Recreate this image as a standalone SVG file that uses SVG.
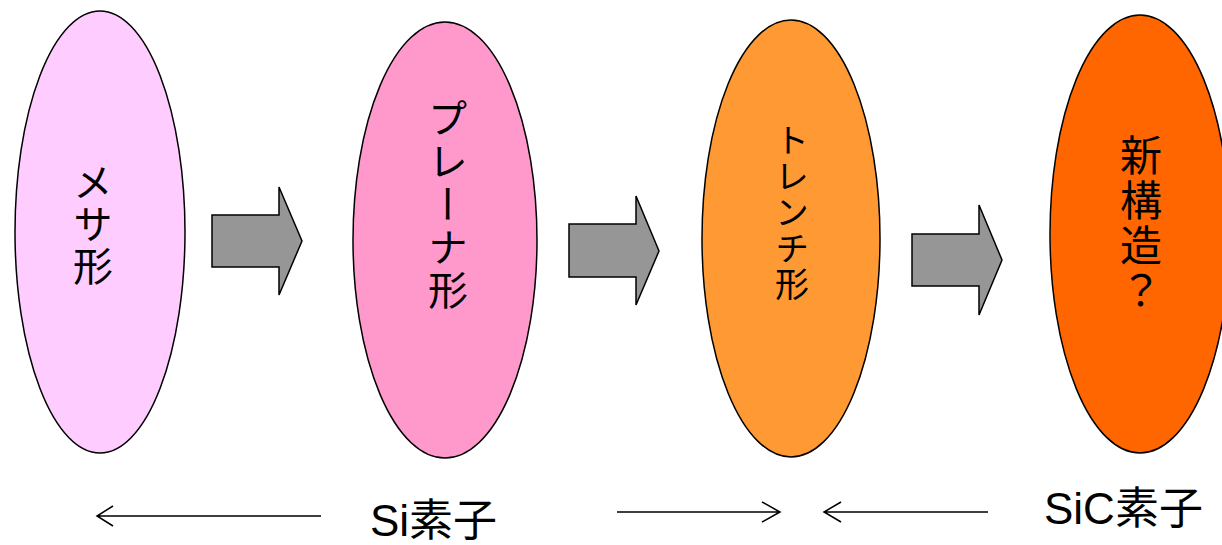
<svg xmlns="http://www.w3.org/2000/svg" width="1222" height="545" viewBox="0 0 1222 545">
<defs>
<style>
.node ellipse{stroke:#000;stroke-width:1.5}
.vt{font-family:"Noto Sans CJK JP","Liberation Sans",sans-serif;writing-mode:vertical-rl;text-orientation:upright;text-anchor:middle;fill:#000}
.blk{fill:#969696;stroke:#000;stroke-width:1.5;stroke-linejoin:miter}
.ln{stroke:#000;stroke-width:1.5;fill:none}
.lbl{font-family:"Liberation Sans","Noto Sans CJK JP",sans-serif;font-size:44px;fill:#000}
</style>
</defs>
<rect width="1222" height="545" fill="#fff"/>
<g id="node-mesa" class="node">
<ellipse cx="100" cy="232" rx="85" ry="221" fill="#FFCCFF"/>
<text class="vt" x="93" y="225" font-size="40" letter-spacing="2">メサ形</text>
</g>
<g id="node-planar" class="node">
<ellipse cx="445" cy="240" rx="92" ry="218" fill="#FF99CC"/>
<text class="vt" x="448" y="205" font-size="40" letter-spacing="3">プレーナ形</text>
</g>
<g id="node-trench" class="node">
<ellipse cx="791" cy="238.5" rx="89" ry="218.5" fill="#FF9933"/>
<text class="vt" x="792" y="213.5" font-size="34" letter-spacing="2">トレンチ形</text>
</g>
<g id="node-new" class="node">
<ellipse cx="1140" cy="234" rx="90" ry="219" fill="#FF6600"/>
<text class="vt" x="1141" y="224" font-size="42" letter-spacing="3">新構造？</text>
</g>
<g id="connectors">
<polygon class="blk" points="212,215 279,215 279,187 302,241 279,295 279,267 212,267"/>
<polygon class="blk" points="569,224 636,224 636,196 659,251 636,305 636,277 569,277"/>
<polygon class="blk" points="912,234 979,234 979,205 1002,260 979,315 979,286 912,286"/>
<path class="ln" d="M321,516 H97 M113,506 L97,516 L113,526"/>
<path class="ln" d="M617,512 H780 M762,502 L780,512 L762,522"/>
<path class="ln" d="M988,512 H824 M841,502 L824,512 L841,522"/>
</g>
<g id="labels">
<text class="lbl" x="370" y="536">Si素子</text>
<text class="lbl" x="1044" y="524">SiC素子</text>
</g>
</svg>
